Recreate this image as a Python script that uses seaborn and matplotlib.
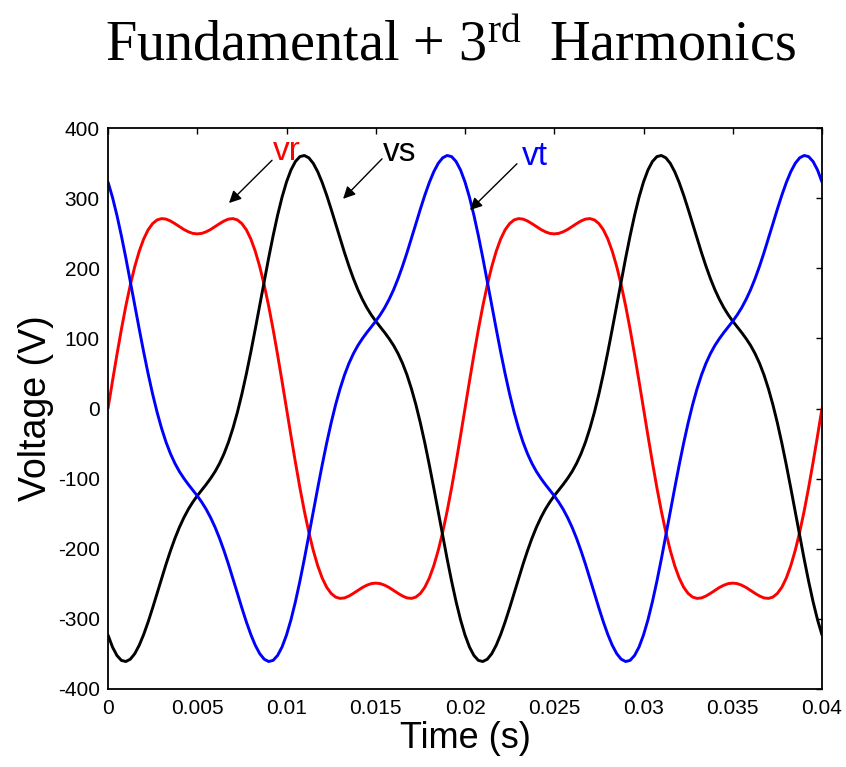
import matplotlib
matplotlib.use("Agg")
import matplotlib.pyplot as plt
import numpy as np
import pandas as pd
import seaborn as sns

time_s = [
    0.0, 0.00025, 0.0005, 0.00075, 0.001, 0.00125, 0.0015, 0.00175, 0.002, 0.00225,
    0.0025, 0.00275, 0.003, 0.00325, 0.0035, 0.00375, 0.004, 0.00425, 0.0045, 0.00475,
    0.005, 0.00525, 0.0055, 0.00575, 0.006, 0.00625, 0.0065, 0.00675, 0.007, 0.00725,
    0.0075, 0.00775, 0.008, 0.00825, 0.0085, 0.00875, 0.009, 0.00925, 0.0095, 0.00975,
    0.01, 0.01025, 0.0105, 0.01075, 0.011, 0.01125, 0.0115, 0.01175, 0.012, 0.01225,
    0.0125, 0.01275, 0.013, 0.01325, 0.0135, 0.01375, 0.014, 0.01425, 0.0145, 0.01475,
    0.015, 0.01525, 0.0155, 0.01575, 0.016, 0.01625, 0.0165, 0.01675, 0.017, 0.01725,
    0.0175, 0.01775, 0.018, 0.01825, 0.0185, 0.01875, 0.019, 0.01925, 0.0195, 0.01975,
    0.02, 0.02025, 0.0205, 0.02075, 0.021, 0.02125, 0.0215, 0.02175, 0.022, 0.02225,
    0.0225, 0.02275, 0.023, 0.02325, 0.0235, 0.02375, 0.024, 0.02425, 0.0245, 0.02475,
    0.025, 0.02525, 0.0255, 0.02575, 0.026, 0.02625, 0.0265, 0.02675, 0.027, 0.02725,
    0.0275, 0.02775, 0.028, 0.02825, 0.0285, 0.02875, 0.029, 0.02925, 0.0295, 0.02975,
    0.03, 0.03025, 0.0305, 0.03075, 0.031, 0.03125, 0.0315, 0.03175, 0.032, 0.03225,
    0.0325, 0.03275, 0.033, 0.03325, 0.0335, 0.03375, 0.034, 0.03425, 0.0345, 0.03475,
    0.035, 0.03525, 0.0355, 0.03575, 0.036, 0.03625, 0.0365, 0.03675, 0.037, 0.03725,
    0.0375, 0.03775, 0.038, 0.03825, 0.0385, 0.03875, 0.039, 0.03925, 0.0395, 0.03975,
    0.04]

vr = [
    0.0, 38.9, 76.8, 112.9, 146.3, 176.3, 202.4, 224.3, 241.8, 254.9,
    263.7, 268.9, 270.8, 270.1, 267.4, 263.6, 259.4, 255.3, 252.0, 249.7,
    249.0, 249.7, 252.0, 255.3, 259.4, 263.6, 267.4, 270.1, 270.8, 268.9,
    263.7, 254.9, 241.8, 224.3, 202.4, 176.3, 146.3, 112.9, 76.8, 38.9,
    0.0, -38.9, -76.8, -112.9, -146.3, -176.3, -202.4, -224.3, -241.8, -254.9,
    -263.7, -268.9, -270.8, -270.1, -267.4, -263.6, -259.4, -255.3, -252.0, -249.7,
    -249.0, -249.7, -252.0, -255.3, -259.4, -263.6, -267.4, -270.1, -270.8, -268.9,
    -263.7, -254.9, -241.8, -224.3, -202.4, -176.3, -146.3, -112.9, -76.8, -38.9,
    0.0, 38.9, 76.8, 112.9, 146.3, 176.3, 202.4, 224.3, 241.8, 254.9,
    263.7, 268.9, 270.8, 270.1, 267.4, 263.6, 259.4, 255.3, 252.0, 249.7,
    249.0, 249.7, 252.0, 255.3, 259.4, 263.6, 267.4, 270.1, 270.8, 268.9,
    263.7, 254.9, 241.8, 224.3, 202.4, 176.3, 146.3, 112.9, 76.8, 38.9,
    0.0, -38.9, -76.8, -112.9, -146.3, -176.3, -202.4, -224.3, -241.8, -254.9,
    -263.7, -268.9, -270.8, -270.1, -267.4, -263.6, -259.4, -255.3, -252.0, -249.7,
    -249.0, -249.7, -252.0, -255.3, -259.4, -263.6, -267.4, -270.1, -270.8, -268.9,
    -263.7, -254.9, -241.8, -224.3, -202.4, -176.3, -146.3, -112.9, -76.8, -38.9,
    0.0]

vs = [
    -323.0, -340.1, -352.2, -359.2, -360.8, -357.5, -349.6, -337.6, -322.2, -304.2,
    -284.4, -263.5, -242.6, -222.2, -202.9, -185.2, -169.4, -155.7, -143.7, -133.5,
    -124.5, -116.3, -108.3, -99.6, -89.9, -78.3, -64.5, -47.9, -28.1, -5.3,
    20.6, 49.3, 80.4, 113.3, 147.2, 181.2, 214.6, 246.3, 275.5, 301.3,
    323.0, 340.1, 352.2, 359.2, 360.8, 357.5, 349.6, 337.6, 322.2, 304.2,
    284.4, 263.5, 242.6, 222.2, 202.9, 185.2, 169.4, 155.7, 143.7, 133.5,
    124.5, 116.3, 108.3, 99.6, 89.9, 78.3, 64.5, 47.9, 28.1, 5.3,
    -20.6, -49.3, -80.4, -113.3, -147.2, -181.2, -214.6, -246.3, -275.5, -301.3,
    -323.0, -340.1, -352.2, -359.2, -360.8, -357.5, -349.6, -337.6, -322.2, -304.2,
    -284.4, -263.5, -242.6, -222.2, -202.9, -185.2, -169.4, -155.7, -143.7, -133.5,
    -124.5, -116.3, -108.3, -99.6, -89.9, -78.3, -64.5, -47.9, -28.1, -5.3,
    20.6, 49.3, 80.4, 113.3, 147.2, 181.2, 214.6, 246.3, 275.5, 301.3,
    323.0, 340.1, 352.2, 359.2, 360.8, 357.5, 349.6, 337.6, 322.2, 304.2,
    284.4, 263.5, 242.6, 222.2, 202.9, 185.2, 169.4, 155.7, 143.7, 133.5,
    124.5, 116.3, 108.3, 99.6, 89.9, 78.3, 64.5, 47.9, 28.1, 5.3,
    -20.6, -49.3, -80.4, -113.3, -147.2, -181.2, -214.6, -246.3, -275.5, -301.3,
    -323.0]

vt = [
    323.0, 301.3, 275.5, 246.3, 214.6, 181.2, 147.2, 113.3, 80.4, 49.3,
    20.6, -5.3, -28.1, -47.9, -64.5, -78.3, -89.9, -99.6, -108.3, -116.3,
    -124.5, -133.5, -143.7, -155.7, -169.4, -185.2, -202.9, -222.2, -242.6, -263.5,
    -284.4, -304.2, -322.2, -337.6, -349.6, -357.5, -360.8, -359.2, -352.2, -340.1,
    -323.0, -301.3, -275.5, -246.3, -214.6, -181.2, -147.2, -113.3, -80.4, -49.3,
    -20.6, 5.3, 28.1, 47.9, 64.5, 78.3, 89.9, 99.6, 108.3, 116.3,
    124.5, 133.5, 143.7, 155.7, 169.4, 185.2, 202.9, 222.2, 242.6, 263.5,
    284.4, 304.2, 322.2, 337.6, 349.6, 357.5, 360.8, 359.2, 352.2, 340.1,
    323.0, 301.3, 275.5, 246.3, 214.6, 181.2, 147.2, 113.3, 80.4, 49.3,
    20.6, -5.3, -28.1, -47.9, -64.5, -78.3, -89.9, -99.6, -108.3, -116.3,
    -124.5, -133.5, -143.7, -155.7, -169.4, -185.2, -202.9, -222.2, -242.6, -263.5,
    -284.4, -304.2, -322.2, -337.6, -349.6, -357.5, -360.8, -359.2, -352.2, -340.1,
    -323.0, -301.3, -275.5, -246.3, -214.6, -181.2, -147.2, -113.3, -80.4, -49.3,
    -20.6, 5.3, 28.1, 47.9, 64.5, 78.3, 89.9, 99.6, 108.3, 116.3,
    124.5, 133.5, 143.7, 155.7, 169.4, 185.2, 202.9, 222.2, 242.6, 263.5,
    284.4, 304.2, 322.2, 337.6, 349.6, 357.5, 360.8, 359.2, 352.2, 340.1,
    323.0]

series_names = ["vr", "vs", "vt"]
series_colors = {"vr": "#ff0000", "vs": "#000000", "vt": "#0000ff"}
x_ticks = [0, 0.005, 0.01, 0.015, 0.02, 0.025, 0.03, 0.035, 0.04]
x_tick_labels = ["0", "0.005", "0.01", "0.015", "0.02", "0.025", "0.03", "0.035", "0.04"]
y_ticks = [-400, -300, -200, -100, 0, 100, 200, 300, 400]
y_tick_labels = ["-400", "-300", "-200", "-100", "0", "100", "200", "300", "400"]

# ---- style ----
sns.set_style("white")
plt.rcParams["font.family"] = ["Liberation Sans", "DejaVu Sans"]
plt.rcParams["text.color"] = "black"
plt.rcParams["axes.labelcolor"] = "black"
plt.rcParams["xtick.color"] = "black"
plt.rcParams["ytick.color"] = "black"
plt.rcParams["mathtext.fontset"] = "custom"
plt.rcParams["mathtext.rm"] = "Liberation Serif"
plt.rcParams["mathtext.it"] = "Liberation Serif:italic"

df = pd.DataFrame({
    "t": time_s * 3,
    "v": vr + vs + vt,
    "phase": ["vr"] * len(vr) + ["vs"] * len(vs) + ["vt"] * len(vt),
})

fig = plt.figure(figsize=(8.46, 7.67), dpi=100)
ax = fig.add_axes([108 / 846, 1 - 689 / 767, (822 - 108) / 846, (689 - 128) / 767])

sns.lineplot(data=df, x="t", y="v", hue="phase", hue_order=series_names,
             palette=series_colors, linewidth=2.1, estimator=None, sort=False,
             legend=False, ax=ax)

ax.set_xlim(0, 0.04)
ax.set_ylim(-400, 400)
ax.set_xticks(x_ticks)
ax.set_xticklabels(x_tick_labels)
ax.set_yticks(y_ticks)
ax.set_yticklabels(y_tick_labels)
ax.tick_params(direction="in", length=4, width=1, top=True, right=True,
               labelsize=15, colors="black")
ax.tick_params(axis="x", pad=7)
ax.tick_params(axis="y", pad=6)
for sp in ax.spines.values():
    sp.set_visible(True)
    sp.set_color("black")
    sp.set_linewidth(1.3)

ax.set_xlabel("Time (s)", fontsize=26, labelpad=2)
ax.set_ylabel("Voltage (V)", fontsize=27, labelpad=3)

# annotations
arrow_kw = dict(arrowstyle="-|>", color="black", lw=1.0, mutation_scale=18,
                shrinkA=0, shrinkB=0)
ax.annotate("", xy=(0.00678, 293), xytext=(0.00919, 354), arrowprops=arrow_kw)
ax.annotate("", xy=(0.01317, 299), xytext=(0.01535, 356), arrowprops=arrow_kw)
ax.annotate("", xy=(0.02028, 283), xytext=(0.02291, 349), arrowprops=arrow_kw)
ax.text(0.00924, 354, "vr", color="#ff0000", fontsize=24, ha="left", va="baseline")
ax.text(0.01541, 353, "vs", color="#000000", fontsize=24, ha="left", va="baseline")
ax.text(0.02319, 347, "vt", color="#0000ff", fontsize=24, ha="left", va="baseline")

fig.text(105 / 846, 1 - 61 / 767, r"Fundamental + 3$^{\mathrm{rd}}$  Harmonics",
         fontsize=40.5, family="Liberation Serif", color="black",
         ha="left", va="baseline")

fig.savefig("out.png", dpi=100, facecolor="white")
